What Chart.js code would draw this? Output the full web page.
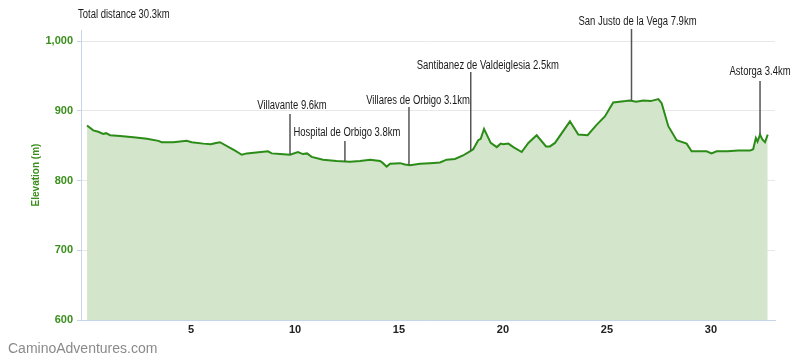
<!DOCTYPE html>
<html>
<head>
<meta charset="utf-8">
<script src="https://cdn.jsdelivr.net/npm/chart.js@4/dist/chart.umd.min.js"></script>
<style>
  html, body { margin: 0; padding: 0; background: #fff; }
  #wrap { width: 800px; height: 362px; position: relative; }
</style>
</head>
<body>
<div id="wrap"><canvas id="profile"></canvas></div>
<script>
// Elevation profile, Villavante -> Astorga

// distance along the route (km) and elevation (m)
const kmValues = [
  0, 0.30, 0.54, 0.78, 0.91, 1.11, 1.59, 2.23, 2.88, 3.43, 3.59, 4.15, 4.79, 5.03,
  5.59, 5.95, 6.20, 6.39, 6.88, 7.12, 7.44, 7.68, 8.70, 8.88, 9.28, 9.76, 10.14,
  10.38, 10.58, 10.80, 11.35, 12.0, 12.64, 13.13, 13.61, 14.09, 14.23, 14.41, 14.57,
  15.05, 15.29, 15.53, 16.01, 16.49, 16.97, 17.29, 17.69, 18.08, 18.41, 18.57, 18.81,
  18.93, 19.09, 19.22, 19.41, 19.70, 19.89, 20.01, 20.26, 20.50, 20.90, 21.22, 21.62,
  22.07, 22.26, 22.50, 23.22, 23.62, 24.07, 24.50, 24.90, 25.30, 25.60, 25.90, 26.11,
  26.40, 26.75, 27.10, 27.47, 27.63, 27.95, 28.35, 28.83, 29.07, 29.40, 29.79, 30.03,
  30.27, 30.80, 31.30, 31.88, 32.03, 32.16, 32.24, 32.36, 32.47, 32.60, 32.73
];
const elevValues = [
  879, 872, 870, 867, 868, 865, 864, 862, 860, 857, 855, 855, 857, 855,
  853, 852, 854, 855, 847, 843, 837, 839, 842, 839, 838, 837, 841,
  838, 839, 834, 830, 828, 827, 828, 830, 828, 825, 820, 824,
  825, 823, 822, 824, 825, 826, 830, 831, 836, 842, 845, 858,
  860, 874, 866, 854, 848, 853, 852, 853, 848, 841, 854, 865,
  849, 849, 854, 885, 866, 865, 880, 892, 912, 913, 914, 915,
  913, 915, 914, 917, 911, 878, 858, 853, 842, 842, 842, 839,
  842, 842, 843, 843, 845, 861, 856, 866, 859, 855, 866
];

// towns marked on the profile
const markerLabels = [
  'Villavante 9.6km',
  'Hospital de Orbigo 3.8km',
  'Villares de Orbigo 3.1km',
  'Santibanez de Valdeiglesia 2.5km',
  'San Justo de la Vega 7.9km',
  'Astorga 3.4km'
];
const markerKm = [9.76, 12.4, 15.48, 18.45, 26.18, 32.36];

const xTickValues = [5, 10, 15, 20, 25, 30];
const yTickStep = 100;
const totalDistance = 'Total distance 30.3km';
const yTitle = 'Elevation (m)';
const watermark = 'CaminoAdventures.com';

const textFont = '"Liberation Sans", Arial, sans-serif';

// linear interpolation of the profile at a given km
function elevAt(km) {
  for (let i = 1; i < kmValues.length; i++) {
    if (km <= kmValues[i]) {
      const t = (km - kmValues[i - 1]) / (kmValues[i] - kmValues[i - 1]);
      return elevValues[i - 1] + t * (elevValues[i] - elevValues[i - 1]);
    }
  }
  return elevValues[elevValues.length - 1];
}

// the original labels use a narrow face, squeeze the text horizontally
function narrowText(ctx, text, x, y, squeeze) {
  ctx.save();
  ctx.translate(x, y);
  ctx.scale(squeeze, 1);
  ctx.fillText(text, 0, 0);
  ctx.restore();
}

// draws the town markers plus the loose texts round the chart
const profileAnnotations = {
  id: 'profileAnnotations',
  afterDatasetsDraw(chart, args, opts) {
    const { ctx } = chart;
    const x = chart.scales.x;
    const y = chart.scales.y;
    ctx.save();
    ctx.font = opts.labelFont;
    ctx.textAlign = 'center';
    ctx.textBaseline = 'middle';
    markerKm.forEach((km, i) => {
      const px = x.getPixelForValue(km);
      const bottom = y.getPixelForValue(elevAt(km));
      ctx.strokeStyle = '#555';
      ctx.lineWidth = 1.5;
      ctx.beginPath();
      ctx.moveTo(px, opts.lineTop[i]);
      ctx.lineTo(px, bottom);
      ctx.stroke();
      ctx.fillStyle = '#1a1a1a';
      narrowText(ctx, markerLabels[i], px + opts.labelDx[i], opts.labelY[i], opts.squeeze);
    });
    ctx.restore();
  },
  afterDraw(chart, args, opts) {
    const { ctx } = chart;
    ctx.save();
    ctx.textBaseline = 'middle';
    ctx.fillStyle = '#1a1a1a';
    ctx.font = opts.labelFont;
    ctx.textAlign = 'left';
    narrowText(ctx, totalDistance, 78, 15, opts.squeeze);

    ctx.fillStyle = '#8a8a8a';
    ctx.font = '14px ' + textFont;
    ctx.fillText(watermark, 8, 349);

    ctx.translate(36, 175);
    ctx.rotate(-Math.PI / 2);
    ctx.textAlign = 'center';
    ctx.fillStyle = '#3a8f1c';
    ctx.font = 'bold 10px ' + textFont;
    ctx.fillText(yTitle, 0, 0);
    ctx.restore();
  }
};

const profilePoints = kmValues.map((km, i) => ({ x: km, y: elevValues[i] }));

new Chart(document.getElementById('profile'), {
  type: 'line',
  data: {
    datasets: [{
      label: 'Elevation',
      data: profilePoints,
      borderColor: '#2b8c17',
      borderWidth: 2,
      backgroundColor: '#d3e6cb',
      fill: 'start',
      pointRadius: 0,
      tension: 0
    }]
  },
  options: {
    responsive: true,
    maintainAspectRatio: false,
    animation: false,
    layout: { padding: { left: 0, right: 25, top: 30, bottom: 0 } },
    plugins: {
      legend: { display: false },
      title: { display: false },
      tooltip: { enabled: false },
      profileAnnotations: {
        labelFont: '12px ' + textFont,
        squeeze: 0.79,
        labelY: [106, 133, 101, 66, 22, 72],
        labelDx: [2, 2, 9, 17, 6, 0],
        lineTop: [114, 141, 107, 72, 29, 81]
      }
    },
    scales: {
      x: {
        type: 'linear',
        min: -0.29,
        max: 33.08,
        afterFit: (axis) => { axis.height = 42; },
        afterBuildTicks: (axis) => { axis.ticks = xTickValues.map(v => ({ value: v })); },
        grid: { display: true, drawOnChartArea: false, drawTicks: false },
        border: { color: '#c5d5ea', width: 1 },
        ticks: {
          padding: 3,
          maxRotation: 0,
          color: '#222',
          font: { family: textFont, size: 11, weight: 'bold' }
        }
      },
      y: {
        min: 600,
        max: 1016,
        afterFit: (axis) => { axis.width = 81; },
        grid: { color: '#e8e8e8', tickColor: '#c5d5ea', tickLength: 4 },
        border: { color: '#c5d5ea', width: 1 },
        ticks: {
          stepSize: yTickStep,
          includeBounds: false,
          padding: 4,
          color: '#3a8f1c',
          font: { family: textFont, size: 11, weight: 'bold' },
          callback: (v) => v.toLocaleString('en-US')
        }
      }
    }
  },
  plugins: [profileAnnotations]
});
</script>
</body>
</html>
